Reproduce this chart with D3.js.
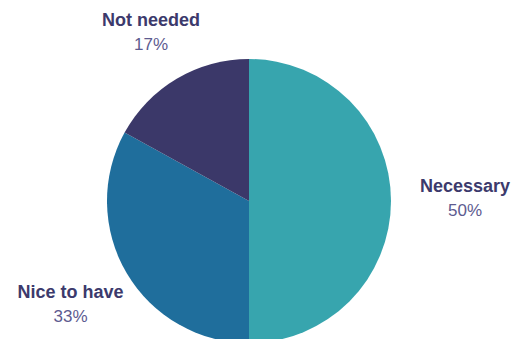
<!DOCTYPE html>
<html>
<head>
<meta charset="utf-8">
<script src="https://cdn.jsdelivr.net/npm/d3@7"></script>
<style>
  html, body { margin: 0; padding: 0; background: #ffffff; }
  svg { display: block; }
</style>
</head>
<body>
<svg id="chart" width="519" height="339"></svg>
<script>
// Survey responses: how needed is the feature?
const categories = ["Necessary", "Nice to have", "Not needed"];
const shares = [50, 33, 17];
const colors = ["#37a5ae", "#1f6e9c", "#3b3869"];

const width = 519, height = 339;
const cx = 249, cy = 201, radius = 142;
const labelGap = 29; // distance from pie edge to nearest label edge

const svg = d3.select("#chart");
const g = svg.append("g").attr("transform", `translate(${cx},${cy})`);

const data = categories.map((c, i) => ({ category: c, value: shares[i], color: colors[i] }));

const pie = d3.pie().sort(null).value(d => d.value);
const arc = d3.arc().innerRadius(0).outerRadius(radius);
const arcs = pie(data);

g.selectAll("path.slice")
  .data(arcs)
  .join("path")
  .attr("class", "slice")
  .attr("d", arc)
  .attr("fill", d => d.data.color);

// Labels: a bold name and a percentage below, placed outside each slice
const labels = g.selectAll("g.label")
  .data(arcs)
  .join("g")
  .attr("class", "label");

labels.append("text")
  .attr("class", "name")
  .attr("text-anchor", "middle")
  .attr("font-family", "Liberation Sans, Arial, sans-serif")
  .attr("font-weight", "bold")
  .attr("font-size", 18)
  .attr("fill", "#3c3a6c")
  .attr("y", 0)
  .text(d => d.data.category);

labels.append("text")
  .attr("class", "pct")
  .attr("text-anchor", "middle")
  .attr("font-family", "Liberation Sans, Arial, sans-serif")
  .attr("font-size", 17)
  .attr("fill", "#5d5b90")
  .attr("y", 24)
  .text(d => d3.format(".0f")(d.data.value) + "%");

labels.each(function(d) {
  const sel = d3.select(this);
  // box spanning cap top of the name to the percentage baseline
  const w = d3.max(sel.selectAll("text").nodes(), n => n.getComputedTextLength());
  const top = -13, bottom = 24;
  const hw = w / 2, hh = (bottom - top) / 2;
  const mid = (d.startAngle + d.endAngle) / 2;
  const sx = Math.sin(mid), sy = -Math.cos(mid);
  const ext = Math.min(
    Math.abs(sx) > 1e-6 ? hw / Math.abs(sx) : Infinity,
    Math.abs(sy) > 1e-6 ? hh / Math.abs(sy) : Infinity
  );
  const r = radius + labelGap + ext;
  const bcy = (top + bottom) / 2 + 3.5;
  sel.attr("transform", `translate(${r * sx},${r * sy - bcy})`);
});
</script>
</body>
</html>
